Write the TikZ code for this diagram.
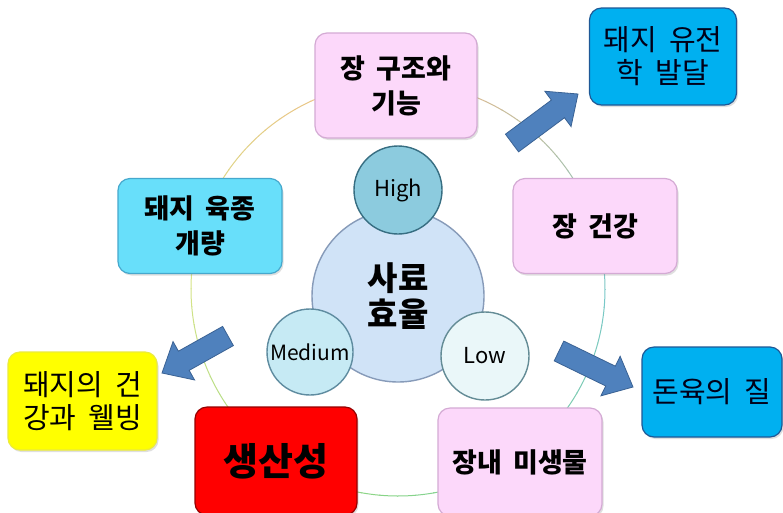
\documentclass[tikz,border=0pt]{standalone}
\usepackage{fontspec}
\newfontfamily\kr{Noto Sans CJK KR}
\usetikzlibrary{calc,shadows}
\definecolor{pinkf}{RGB}{252,216,250}
\definecolor{pinkd}{RGB}{212,170,212}
\definecolor{cyanf}{RGB}{104,223,250}
\definecolor{cyand}{RGB}{70,168,205}
\definecolor{bluef}{RGB}{0,176,240}
\definecolor{blued}{RGB}{30,88,150}
\definecolor{yelf}{RGB}{255,255,0}
\definecolor{yeld}{RGB}{235,235,60}
\definecolor{redf}{RGB}{255,0,0}
\definecolor{redd}{RGB}{150,0,0}
\definecolor{arrf}{RGB}{79,129,189}
\definecolor{arrd}{RGB}{58,98,148}
\definecolor{bigf}{RGB}{208,227,247}
\definecolor{bigd}{RGB}{135,155,185}
\definecolor{highf}{RGB}{140,203,222}
\definecolor{highd}{RGB}{55,110,130}
\definecolor{medf}{RGB}{198,234,244}
\definecolor{medd}{RGB}{95,140,160}
\definecolor{lowf}{RGB}{234,247,249}
\definecolor{lowd}{RGB}{100,140,150}
\definecolor{ringO}{RGB}{242,185,135}
\definecolor{ringY}{RGB}{215,228,135}
\definecolor{ringG}{RGB}{135,212,135}
\definecolor{ringT}{RGB}{120,200,200}
\newcommand\widesp{\spaceskip=0.42em\relax}
\tikzset{
  box/.style={rounded corners=12pt, line width=1.2pt, inner sep=0pt, align=center,
    drop shadow={opacity=0.25, shadow xshift=1.5pt, shadow yshift=-2pt},
    font=\kr\bfseries\fontsize{27}{35}\selectfont\widesp},
  pinkbox/.style={box, fill=pinkf, draw=pinkd},
  cyanbox/.style={box, fill=cyanf, draw=cyand},
  bluebox/.style={box, fill=bluef, draw=blued, font=\kr\fontsize{29}{33}\selectfont\widesp, text=black!90!blue},
  yelbox/.style={box, fill=yelf, draw=yeld, font=\kr\fontsize{29}{33}\selectfont\widesp},
  redbox/.style={box, fill=redf, draw=redd, font=\kr\bfseries\fontsize{38}{42}\selectfont},
  ball/.style={circle, inner sep=0pt, line width=1.4pt, font=\kr\fontsize{22}{24}\selectfont},
  barrow/.style={fill=arrf, draw=arrd, line width=0.8pt, line join=miter},
  ringseg/.style={line width=1pt}
}
\newcommand\blockarr[2]{%
  \coordinate (#1q) at ($(#2)!25pt!(#1)$);
  \filldraw[barrow] ($(#1)!11pt!90:(#2)$) -- ($(#1q)!11pt!90:(#2)$) -- ($(#1q)!22pt!90:(#2)$) -- (#2)
    -- ($(#1q)!22pt!-90:(#2)$) -- ($(#1q)!11pt!-90:(#2)$) -- ($(#1)!11pt!-90:(#2)$) -- cycle;}
\begin{document}
\begin{tikzpicture}[x=1pt,y=-1pt]
\useasboundingbox (0,0) rectangle (783,512);
\fill[white] (0,0) rectangle (783,512);
% ring
\coordinate (rc) at (398,289);
\foreach \a in {180,185,...,265}{\pgfmathtruncatemacro\p{100-(\a-180)*100/90}
  \draw[ringseg, ringY!\p!ringO] ($(rc)+(\a:207)$) arc (\a:\a+5.2:207);}
\foreach \a in {270,275,...,355}{\pgfmathtruncatemacro\p{100-(\a-270)*100/90}
  \draw[ringseg, ringO!\p!ringT] ($(rc)+(\a:207)$) arc (\a:\a+5.2:207);}
\foreach \a in {0,5,...,85}{\pgfmathtruncatemacro\p{100-\a*100/90}
  \draw[ringseg, ringT!\p!ringG] ($(rc)+(\a:207)$) arc (\a:\a+5.2:207);}
\foreach \a in {90,95,...,175}{\pgfmathtruncatemacro\p{100-(\a-90)*100/90}
  \draw[ringseg, ringG!\p!ringY] ($(rc)+(\a:207)$) arc (\a:\a+5.2:207);}
% central circles
\node[ball, fill=bigf, draw=bigd, minimum size=172pt, align=center, font=\kr\bfseries\fontsize{33}{36}\selectfont] (feed) at (398,296) {사료\\효율};
\node[ball, fill=highf, draw=highd, minimum size=88pt] (high) at (398,190) {High};
\node[ball, fill=medf, draw=medd, minimum size=86pt, font=\kr\fontsize{21}{24}\selectfont] (med) at (310,352) {Medium};
\node[ball, fill=lowf, draw=lowd, minimum size=88pt] (low) at (485,356) {Low};
% boxes
\node[pinkbox, minimum width=162pt, minimum height=105pt] (struct) at (396,85.5) {장 구조와\\기능};
\node[pinkbox, minimum width=164pt, minimum height=95pt] (health) at (595,226) {장 건강};
\node[cyanbox, minimum width=164pt, minimum height=95pt] (breed) at (200,226) {돼지 육종\\개량};
\node[redbox, minimum width=162pt, minimum height=108pt] (prod) at (276,461) {생산성};
\node[pinkbox, minimum width=164pt, minimum height=108pt] (micro) at (520,462) {장내 미생물};
\node[bluebox, minimum width=147pt, minimum height=97pt] (genet) at (663,56.5) {돼지 유전\\학 발달};
\node[bluebox, minimum width=140pt, minimum height=90pt] (meat) at (712,392) {돈육의 질};
\node[yelbox, minimum width=149pt, minimum height=98pt] (welf) at (82.5,401) {돼지의 건\\강과 웰빙};
% block arrows
\coordinate (a1) at (512,143); \coordinate (a1t) at (578,94);
\coordinate (a2) at (559,351); \coordinate (a2t) at (633,387);
\coordinate (a3) at (228,336); \coordinate (a3t) at (162,373);
\blockarr{a1}{a1t}
\blockarr{a2}{a2t}
\blockarr{a3}{a3t}
\end{tikzpicture}
\end{document}
